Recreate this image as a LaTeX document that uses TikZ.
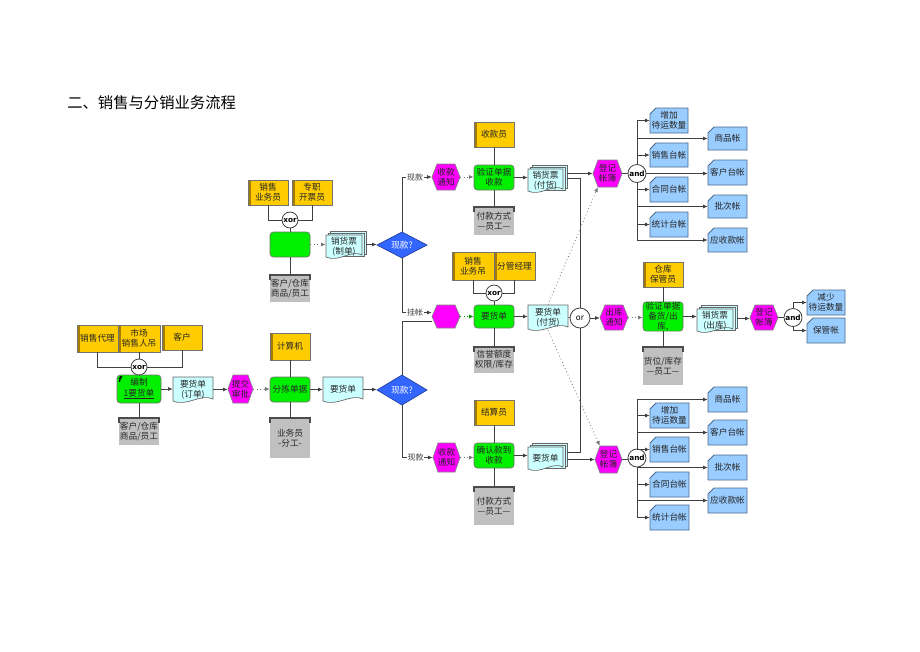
\documentclass[tikz,border=0pt]{standalone}
\usepackage{fontspec}
\setmainfont{Noto Sans CJK SC}
\newfontfamily\gatefont{DejaVu Sans}
\usetikzlibrary{arrows.meta}
\definecolor{yelc}{HTML}{FFCC00}
\definecolor{yeld}{HTML}{A67C00}
\definecolor{grnc}{HTML}{00F000}
\definecolor{magc}{HTML}{FF00FF}
\definecolor{cyanc}{HTML}{CCFFFF}
\definecolor{grayc}{HTML}{C0C0C0}
\definecolor{diac}{HTML}{3366FF}
\definecolor{diae}{HTML}{1F3F9F}
\definecolor{cardc}{HTML}{99CCFF}
\definecolor{carde}{HTML}{4A6A90}

\newcommand{\mkPN}[7]{\node[#1, minimum width={((#5)-(#3))*0.75pt}, minimum height={((#6)-(#4))*0.75pt}] (#2) at ({((#3)+(#5))/2},{((#4)+(#6))/2}) {#7};}
\newcommand{\mkYB}[6]{%
  \fill[yelc] ({#2},{#3}) rectangle ({#4},{#5});
  \fill[yeld] ({#2},{#3}) rectangle ({(#2)+3},{#5});
  \draw[boxedge] ({#2},{#3}) rectangle ({#4},{#5});
  \mkPN{txt}{#1}{#2}{#3}{#4}{#5}{#6}}
\newcommand{\mkGB}[6]{%
  \fill[grayc] ({#2},{#3}) rectangle ({#4},{#5});
  \draw[draw=black!70, line width=0.8pt] ({#2},{(#3)+5}) -- ({#2},{#3}) -- ({#4},{#3}) -- ({#4},{(#3)+5});
  \mkPN{txt}{#1}{#2}{#3}{#4}{#5}{#6}}
\newcommand{\mkHX}[6]{%
  \filldraw[fill=magc, draw=black!50, line width=0.5pt] ({#2},{((#3)+(#5))/2}) -- ({(#2)+5},{#3}) -- ({(#4)-5},{#3}) -- ({#4},{((#3)+(#5))/2}) -- ({(#4)-5},{#5}) -- ({(#2)+5},{#5}) -- cycle;
  \mkPN{txt}{#1}{#2}{#3}{#4}{#5}{#6}}
\newcommand{\mkDCshape}[4]{\filldraw[docsty] ({#1},{#2}) -- ({#3},{#2}) -- ({#3},{(#4)-3}) .. controls ({(#1)+0.7*((#3)-(#1))},{(#4)-9}) and ({(#1)+0.35*((#3)-(#1))},{(#4)+5}) .. ({#1},{(#4)-1}) -- cycle;}
\newcommand{\mkDC}[6]{\mkDCshape{#2}{#3}{#4}{#5}\mkPN{txt}{#1}{#2}{#3}{#4}{#5}{#6}}
\newcommand{\mkMD}[6]{%
  \filldraw[docsty] ({(#2)+4},{#3}) rectangle ({#4},{(#5)-4});
  \filldraw[docsty] ({(#2)+2},{(#3)+2}) rectangle ({(#4)-2},{(#5)-2});
  \mkDCshape{#2}{(#3)+4}{(#4)-4}{#5}%
  \node[txt, minimum width={((#4)-(#2)-4)*0.75pt}, minimum height={((#5)-(#3)-4)*0.75pt}] at ({((#2)+(#4)-4)/2},{((#3)+(#5)+4)/2}) {#6};
  \mkPN{inner sep=0pt}{#1}{#2}{#3}{#4}{#5}{}}
\newcommand{\mkCD}[6]{%
  \filldraw[fill=cardc, draw=carde, line width=0.6pt] ({(#2)+6},{#3}) -- ({#4},{#3}) -- ({#4},{#5}) -- ({#2},{#5}) -- ({#2},{(#3)+6}) -- cycle;
  \mkPN{txt}{#1}{#2}{#3}{#4}{#5}{#6}}
\newcommand{\mkDM}[6]{%
  \filldraw[fill=diac, draw=diae, line width=0.5pt] ({(#2)-(#4)},{#3}) -- ({#2},{(#3)-(#5)}) -- ({(#2)+(#4)},{#3}) -- ({#2},{(#3)+(#5)}) -- cycle;
  \node[txt, text=white, minimum width={2*(#4)*0.75pt}, minimum height={2*(#5)*0.75pt}] (#1) at ({#2},{#3}) {#6};}

\begin{document}
\begin{tikzpicture}[x=0.75pt,y=-0.75pt,
  txt/.style={inner sep=0pt, align=center, font=\fontsize{6.5}{7.6}\selectfont, text=black!85},
  grn/.style={txt, draw=black!55, fill=grnc, rounded corners=2.5pt, line width=0.5pt},
  docsty/.style={fill=cyanc, draw=black!60, line width=0.5pt},
  gate/.style={circle, draw=black!75, fill=white, inner sep=0pt, minimum size=12pt, font=\gatefont\bfseries\fontsize{5.5}{6}\selectfont, line width=0.6pt},
  ln/.style={draw=black!75, line width=0.6pt},
  arr/.style={ln, -{Latex[length=3.5pt,width=3pt]}},
  darr/.style={draw=black!55, line width=0.6pt, dotted, -{Latex[length=3.5pt,width=3pt]}},
  lbl/.style={fill=white, inner sep=0.5pt, font=\fontsize{6}{6}\selectfont, text=black!75},
  boxedge/.style={draw=black!55, line width=0.5pt}]
\path[use as bounding box, fill=white] (0,0) rectangle (920,651);

\node[anchor=west, inner sep=0pt, font=\fontsize{11.5}{12}\selectfont] (title) at (67,103) {二、销售与分销业务流程};

% ---------- left chain
\mkYB{dl}{77}{325}{118}{352}{销售代理}
\mkYB{sc}{118}{325}{160}{352}{市场\\销售人吊}
\mkYB{kh}{162}{325}{202}{350}{客户}
\node[gate] (xor1) at (139,367) {xor};
\mkPN{grn}{bz}{117}{375}{161}{403}{编制\\\underline{1要货单}}
\node[anchor=north west, inner sep=1pt, font=\gatefont\bfseries\itshape\fontsize{6}{6}\selectfont] (bzf) at (bz.north west) {f};
\mkGB{gy1}{119}{418}{159}{445}{客户/仓库\\商品/员工}
\mkDC{doc1}{173}{377}{213}{402}{要货单\\(订单)}
\mkHX{hex1}{228}{375}{253}{403}{提交\\审批}
\mkYB{jsj}{270}{333}{310}{360}{计算机}
\mkPN{grn}{fj}{270}{377}{310}{402}{分拣单据}
\mkGB{ywy}{270}{418}{310}{458}{业务员\\-分工-}
\mkDC{doc2}{323}{377}{363}{402}{要货单}
\mkDM{dia2}{402}{390}{25}{15}{现款?}

% ---------- top chain
\mkYB{xy1}{248}{180}{288}{205}{销售\\业务员}
\mkYB{zz}{292}{180}{332}{205}{专职\\开票员}
\node[gate] (xor2) at (290,220) {xor};
\mkPN{grn}{gtop}{270}{232}{310}{257}{}
\mkGB{gy2}{270}{275}{310}{302}{客户/仓库\\商品/员工}
\mkMD{doc3}{326}{231}{366}{258}{销货票\\(制单)}
\mkDM{dia1}{402}{245}{25}{13}{现款?}

% ---------- middle column
\mkHX{hexA}{432}{164}{460}{190}{收款\\通知}
\mkYB{skr}{474}{122}{514}{147}{收款员}
\mkPN{grn}{yz1}{474}{165}{514}{190}{验证单据\\收款}
\mkGB{fk1}{474}{207}{514}{235}{付款方式\\—员工—}
\mkMD{mdocA}{528}{165}{567}{192}{销货票\\(付货)}
\mkYB{xy2}{452}{252}{494}{280}{销售\\业务吊}
\mkYB{fg}{494}{252}{535}{280}{分管经理}
\node[gate] (xor3) at (494,293) {xor};
\mkHX{hexB}{432}{305}{460}{328}{}
\mkPN{grn}{gyh}{474}{305}{514}{328}{要货单}
\mkGB{xyed}{474}{347}{514}{373}{信誉额度\\权限/库存}
\mkDC{docB}{528}{305}{568}{330}{要货单\\(付货)}
\node[gate, minimum size=15pt, font=\gatefont\fontsize{6}{6}\selectfont] (orc) at (580,318) {or};
\mkYB{jsy}{474}{400}{514}{425}{结算员}
\mkHX{hexC}{433}{443}{460}{472}{收款\\通知}
\mkPN{grn}{qr}{474}{443}{514}{468}{确认款到\\收款}
\mkGB{fk2}{474}{487}{514}{525}{付款方式\\—员工—}
\mkMD{mdocC}{528}{443}{567}{470}{要货单}

% ---------- right part
\mkHX{hexR1}{593}{160}{622}{187}{登记\\帐簿}
\node[gate, minimum size=13.5pt] (andT) at (637,173.5) {and};
\mkHX{hexR2}{600}{305}{628}{330}{出库\\通知}
\mkYB{cgy}{643}{262}{683}{287}{仓库\\保管员}
\mkPN{grn}{ck}{643}{305}{683}{328}{验证单据\\备货/出\\库,}
\mkGB{hw}{643}{347}{683}{385}{货位/库存\\—员工—}
\mkMD{mdocR}{697}{305}{737}{332}{销货票\\(出库)}
\mkHX{hexR4}{750}{305}{778}{330}{登记\\帐簿}
\node[gate, minimum size=13.5pt] (andM) at (793,317.5) {and};
\mkCD{cJ}{807}{290}{845}{315}{减少\\待运数量}
\mkCD{cBG}{807}{318}{845}{343}{保管帐}
\mkHX{hexR3}{595}{446}{622}{473}{登记\\帐簿}
\node[gate, minimum size=13.5pt] (andB) at (637,458) {and};

\mkCD{tA}{650}{108}{688}{133}{增加\\待运数量}
\mkCD{tB}{708}{127}{747}{150}{商品帐}
\mkCD{tC}{650}{143}{688}{167}{销售台帐}
\mkCD{tD}{708}{160}{747}{185}{客户台帐}
\mkCD{tE}{650}{177}{688}{202}{合同台帐}
\mkCD{tF}{708}{195}{747}{218}{批次帐}
\mkCD{tG}{650}{212}{688}{237}{统计台帐}
\mkCD{tH}{708}{228}{747}{252}{应收款帐}

\mkCD{bA}{708}{387}{747}{412}{商品帐}
\mkCD{bB}{650}{403}{689}{428}{增加\\待运数量}
\mkCD{bC}{708}{420}{747}{445}{客户台帐}
\mkCD{bD}{650}{437}{689}{462}{销售台帐}
\mkCD{bE}{708}{455}{747}{480}{批次帐}
\mkCD{bF}{650}{472}{689}{497}{合同台帐}
\mkCD{bG}{708}{488}{747}{513}{应收款帐}
\mkCD{bH}{650}{505}{689}{530}{统计台帐}

% ---------- connectors: left
\draw[ln] (dl.south) |- (xor1);
\draw[ln] (sc.south) -- (xor1.north);
\draw[ln] (kh.south) |- (xor1);
\draw[ln] (xor1.south) -- (bz.north);
\draw[ln] (bz.south) -- (gy1.north);
\draw[arr] (bz.east) -- (bz.east -| doc1.west);
\draw[arr] (doc1.east) -- (doc1.east -| hex1.west);
\draw[darr] (hex1.east) -- (hex1.east -| fj.west);
\draw[ln] (jsj.south) -- (fj.north);
\draw[ln] (fj.south) -- (ywy.north);
\draw[arr] (fj.east) -- (fj.east -| doc2.west);
\draw[arr] (doc2.east) -- (doc2.east -| dia2.west);

% top chain
\draw[ln] (xy1.south) |- (xor2);
\draw[ln] (zz.south) |- (xor2);
\draw[ln] (xor2.south) -- (gtop.north);
\draw[ln] (gtop.south) -- (gy2.north);
\draw[darr] (gtop.east) -- (gtop.east -| doc3.west);
\draw[arr] (doc3.east) -- (doc3.east -| dia1.west);

% diamonds
\draw[arr] (dia1.north) |- node[lbl, pos=0.72] {现款} (hexA.west);
\draw[arr] (dia1.south) |- node[lbl, pos=0.72] {挂帐} ([yshift=3pt]hexB.west);
\draw[ln] (dia2.north) |- ([yshift=-4pt]hexB.west);
\draw[arr] (dia2.south) |- node[lbl, pos=0.72] {现款} (hexC.west);

% middle
\draw[ln] (skr.south) -- (yz1.north);
\draw[ln] (yz1.south) -- (fk1.north);
\draw[darr] (hexA.east) -- (hexA.east -| yz1.west);
\draw[arr] (yz1.east) -- (yz1.east -| mdocA.west);
\draw[ln] (xy2.south) |- (xor3);
\draw[ln] (fg.south) |- (xor3);
\draw[ln] (xor3.south) -- (gyh.north);
\draw[ln] (gyh.south) -- (xyed.north);
\draw[darr, draw=green!60!black] (hexB.east) -- (hexB.east -| gyh.west);
\draw[arr] (gyh.east) -- (gyh.east -| docB.west);
\draw[ln] (docB.east) -- (orc);
\draw[ln] (jsy.south) -- (qr.north);
\draw[ln] (qr.south) -- (fk2.north);
\draw[darr] (hexC.east) -- (hexC.east -| qr.west);
\draw[arr] (qr.east) -- (qr.east -| mdocC.west);

% right
\draw[arr] (mdocA.east |- hexR1.west) -- (hexR1.west);
\draw[ln] (mdocA.east) -| (orc);
\draw[ln] (orc) |- ([yshift=3pt]mdocC.east);
\draw[arr] (mdocC.east |- hexR3.west) -- (hexR3.west);
\draw[arr] (orc.east) -- (orc.east -| hexR2.west);
\draw[darr] (docB.north) -- ([xshift=3.75pt]hexR1.south west);
\draw[darr] (docB.south) -- ([xshift=3.75pt]hexR3.north west);

\draw[ln] (hexR1.east) -- (andT);
\foreach \c in {tA,tB,tC,tE,tF,tG,tH} \draw[arr] (andT) |- (\c.west);
\draw[arr] (andT.east) -- (andT.east -| tD.west);

\draw[ln] (hexR3.east) -- (hexR3.east -| andB.west);
\foreach \c in {bA,bB,bC,bD,bE,bF,bG,bH} \draw[arr] (andB) |- (\c.west);

\draw[darr] (hexR2.east) -- (hexR2.east -| ck.west);
\draw[ln] (cgy.south) -- (ck.north);
\draw[ln] (ck.south) -- (hw.north);
\draw[arr] (ck.east) -- (ck.east -| mdocR.west);
\draw[arr] (mdocR.east) -- (mdocR.east -| hexR4.west);
\draw[ln] (hexR4.east) -- (andM);
\draw[arr] (andM) |- (cJ.west);
\draw[arr] (andM) |- (cBG.west);
\end{tikzpicture}
\end{document}
